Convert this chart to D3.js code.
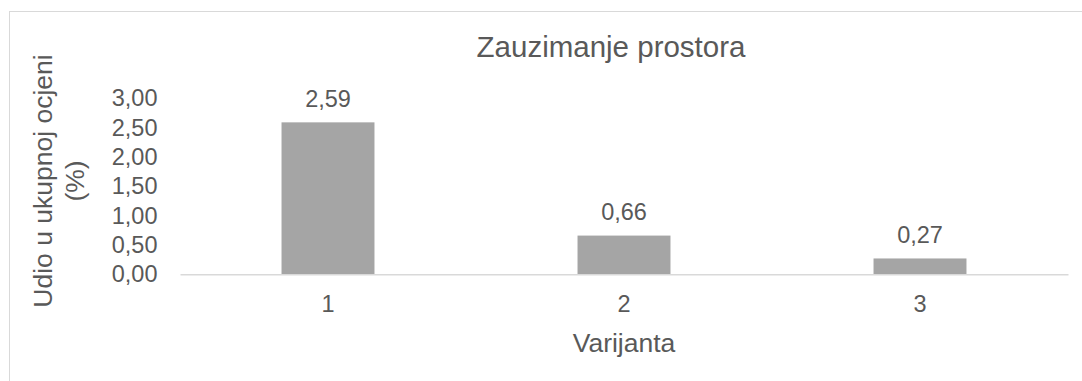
<!DOCTYPE html>
<html>
<head>
<meta charset="utf-8">
<script src="https://cdn.jsdelivr.net/npm/d3@7"></script>
<style>
  html, body { margin: 0; padding: 0; background: #fff; }
  svg { display: block; }
  text { font-family: Arial, "Liberation Sans", sans-serif; fill: #595959; }
</style>
</head>
<body>
<svg id="chart" width="1082" height="381"></svg>
<script>
// Chart data
const categories = ["1", "2", "3"];
const values = [2.59, 0.66, 0.27];
const yTicks = [0, 0.5, 1, 1.5, 2, 2.5, 3];
const chartTitle = "Zauzimanje prostora";
const xTitle = "Varijanta";
const yTitleLines = ["Udio u ukupnoj ocjeni", "(%)"];

const fmt = v => d3.format(".2f")(v).replace(".", ",");

const svg = d3.select("#chart");

// Outer frame of the chart area
svg.append("rect")
  .attr("x", 9.5).attr("y", 11.5)
  .attr("width", 1090).attr("height", 400)
  .attr("fill", "#fff")
  .attr("stroke", "#d9d9d9").attr("stroke-width", 1);

const plot = { left: 180, right: 1068, top: 98.3, bottom: 274.3 };

const x = d3.scaleBand()
  .domain(categories)
  .range([plot.left, plot.right])
  .paddingInner(0.686)
  .paddingOuter(0.343);

const y = d3.scaleLinear()
  .domain([0, 3])
  .range([plot.bottom, plot.top]);

// Value axis labels (no line)
const yAxis = d3.axisLeft(y)
  .tickValues(yTicks)
  .tickFormat(fmt)
  .tickSize(0)
  .tickPadding(0);
const gy = svg.append("g")
  .attr("transform", `translate(157.5,0)`)
  .call(yAxis);
gy.select(".domain").remove();
gy.selectAll("text")
  .attr("font-size", 23.5)
  .attr("fill", "#595959")
  .attr("font-family", "Arial, 'Liberation Sans', sans-serif");

// Bars
svg.append("g").selectAll("rect")
  .data(values)
  .join("rect")
  .attr("x", (d, i) => x(categories[i]))
  .attr("y", d => y(d))
  .attr("width", x.bandwidth())
  .attr("height", d => y(0) - y(d))
  .attr("fill", "#a5a5a5");

// Category axis
const xAxis = d3.axisBottom(x).tickSize(0).tickPadding(0);
const gx = svg.append("g")
  .attr("transform", `translate(0,${plot.bottom})`)
  .call(xAxis);
gx.select(".domain")
  .attr("stroke", "#d9d9d9").attr("stroke-width", 1.5);
gx.selectAll("text")
  .attr("font-size", 23.5)
  .attr("fill", "#595959")
  .attr("font-family", "Arial, 'Liberation Sans', sans-serif")
  .attr("dy", null)
  .attr("y", 37.4);

// Data labels
svg.append("g").selectAll("text")
  .data(values)
  .join("text")
  .attr("x", (d, i) => x(categories[i]) + x.bandwidth() / 2)
  .attr("y", d => y(d) - 15.5)
  .attr("text-anchor", "middle")
  .attr("font-size", 23.5)
  .attr("fill", "#404040")
  .text(fmt);

// Title
svg.append("text")
  .attr("x", 611).attr("y", 57)
  .attr("text-anchor", "middle")
  .attr("font-size", 29.5)
  .text(chartTitle);

// Category axis title
svg.append("text")
  .attr("x", (plot.left + plot.right) / 2).attr("y", 352)
  .attr("text-anchor", "middle")
  .attr("font-size", 26.5)
  .text(xTitle);

// Value axis title (rotated, two lines)
const yt = svg.append("text")
  .attr("transform", "translate(52,181) rotate(-90)")
  .attr("text-anchor", "middle")
  .attr("font-size", 26.5);
yTitleLines.forEach((line, i) => {
  yt.append("tspan").attr("x", 0).attr("y", i * 31.5).text(line);
});
</script>
</body>
</html>
